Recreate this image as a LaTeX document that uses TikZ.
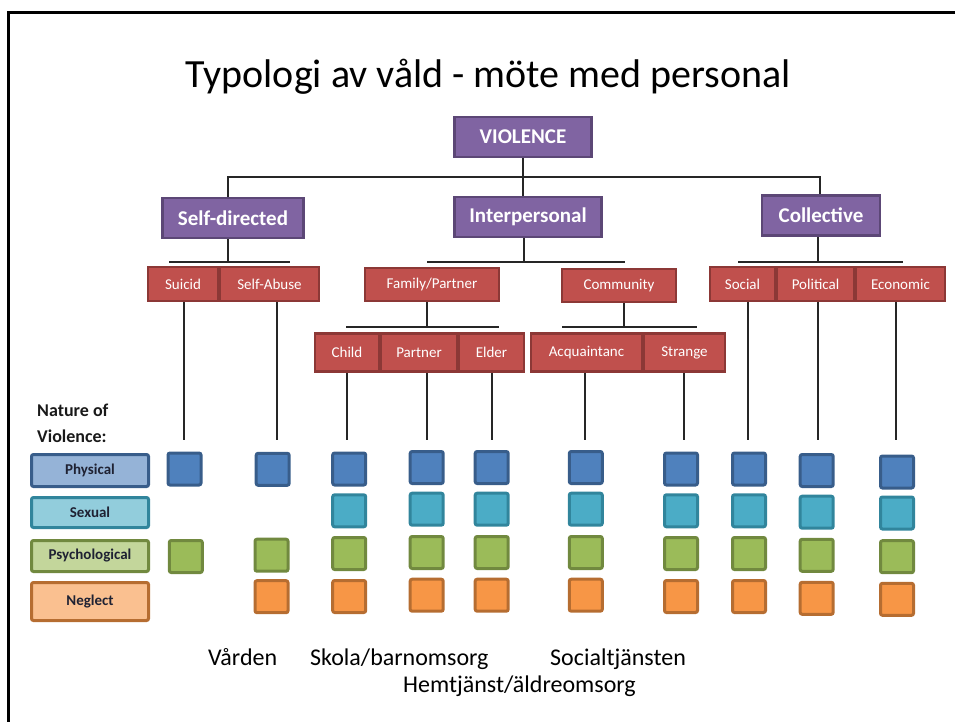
\documentclass[tikz,border=0pt]{standalone}
\usepackage{fontspec}
\setmainfont{Carlito}
\definecolor{purF}{HTML}{8064A2}
\definecolor{purD}{HTML}{5C4776}
\definecolor{redF}{HTML}{C0504D}
\definecolor{redD}{HTML}{8C3836}
\definecolor{bluF}{HTML}{4F81BD}
\definecolor{bluD}{HTML}{385D8A}
\definecolor{cyaF}{HTML}{4BACC6}
\definecolor{cyaD}{HTML}{31859C}
\definecolor{greF}{HTML}{9BBB59}
\definecolor{greD}{HTML}{71893F}
\definecolor{oraF}{HTML}{F79646}
\definecolor{oraD}{HTML}{B66D31}
\definecolor{lbluF}{HTML}{95B3D7}
\definecolor{lcyaF}{HTML}{92CDDC}
\definecolor{lgreF}{HTML}{C3D69B}
\definecolor{loraF}{HTML}{FAC090}
\definecolor{legtext}{HTML}{1F2233}
\tikzset{
  pbox/.style={draw=purD, fill=purF, line width=2.5pt, text=white, inner sep=0pt,
    font=\fontsize{21}{25}\selectfont\bfseries, minimum height=40},
  rbox/.style={draw=redD, fill=redF, line width=2.5pt, text=white, inner sep=0pt,
    font=\fontsize{15}{18}\selectfont},
  conn/.style={draw=black!85, line width=1.8pt},
  sq/.style={line width=3pt, rounded corners=2pt, minimum width=33, minimum height=32, inner sep=0pt},
  sqB/.style={sq, draw=bluD, fill=bluF},
  sqC/.style={sq, draw=cyaD, fill=cyaF},
  sqG/.style={sq, draw=greD, fill=greF},
  sqO/.style={sq, draw=oraD, fill=oraF},
  leg/.style={line width=3pt, rounded corners=2pt, minimum width=117, inner sep=0pt, text=legtext,
    font=\fontsize{15}{18}\selectfont\bfseries},
  caption/.style={anchor=base west, inner sep=0pt, font=\fontsize{24}{28}\selectfont},
}
\begin{document}
\begin{tikzpicture}[x=1pt,y=-1pt]
\useasboundingbox (0,0) rectangle (955,722);
\draw[line width=2.2pt] (8.5,722) -- (8.5,12.5) -- (955,12.5);

% title
\node[anchor=base, inner sep=0pt, font=\fontsize{40}{48}\selectfont] (title) at (488.5,87.5) {Typologi av våld - möte med personal};

% level 0/1
\node[pbox, minimum width=137] (violence) at (523,137) {VIOLENCE};
\node[pbox, minimum width=141] (selfdir) at (233,218) {Self-directed};
\node[pbox, minimum width=147] (interp) at (528,217) {Interpersonal};
\node[pbox, minimum width=118] (collect) at (821,215.5) {Collective};

% level 2 red cells
\node[rbox, minimum width=70, minimum height=34] (suicid) at (183,284) {Suicid};
\node[rbox, minimum width=99, minimum height=34] (sabuse) at (269.5,284) {Self-Abuse};
\node[rbox, minimum width=134, minimum height=33] (family) at (432,284.5) {Family/Partner};
\node[rbox, minimum width=114, minimum height=33] (commun) at (619,285.5) {Community};
\node[rbox, minimum width=65, minimum height=34] (social) at (742.5,284) {Social};
\node[rbox, minimum width=77, minimum height=34] (politic) at (815.5,284) {Political};
\node[rbox, minimum width=89, minimum height=34] (econ) at (900.5,284) {Economic};

% level 3 red cells
\node[rbox, minimum width=64, minimum height=38] (child) at (347,352.5) {Child};
\node[rbox, minimum width=76, minimum height=38] (partner) at (419,352.5) {Partner};
\node[rbox, minimum width=65, minimum height=38] (elder) at (491.5,352.5) {Elder};
\node[rbox, minimum width=111, minimum height=38] (acq) at (586.5,352.5) {Acquaintanc};
\node[rbox, minimum width=81, minimum height=38] (strange) at (684.5,352.5) {Strange};

% connectors level 0 -> 1
\coordinate (b1L) at (228,177);
\coordinate (b1R) at (820,177);
\draw[conn] (b1L |- selfdir.north) -- (b1L) -- (b1R) -- (b1R |- collect.north);
\draw[conn] (violence.south) -- (violence.south |- interp.north);

% connectors level 1 -> 2
\coordinate (s2) at (228,262);
\coordinate (s2L) at (169,262);
\coordinate (s2R) at (290,262);
\draw[conn] (s2 |- selfdir.south) -- (s2);
\draw[conn] (s2L) -- (s2R);
\coordinate (i2) at (524,262);
\coordinate (i2L) at (427,262);
\coordinate (i2R) at (625,262);
\draw[conn] (i2 |- interp.south) -- (i2);
\draw[conn] (i2L) -- (i2R);
\coordinate (c2) at (818,262);
\coordinate (c2L) at (738,262);
\coordinate (c2R) at (903,262);
\draw[conn] (c2 |- collect.south) -- (c2);
\draw[conn] (c2L) -- (c2R);

% connectors level 2 -> 3
\coordinate (f3) at (427,327);
\coordinate (f3L) at (346,327);
\coordinate (f3R) at (499,327);
\draw[conn] (f3 |- family.south) -- (f3);
\draw[conn] (f3L) -- (f3R);
\coordinate (m3) at (624,327);
\coordinate (m3L) at (562,327);
\coordinate (m3R) at (697,327);
\draw[conn] (m3 |- commun.south) -- (m3);
\draw[conn] (m3L) -- (m3R);

% drop lines
\coordinate (dSui) at (184,440);
\coordinate (dSab) at (277,440);
\coordinate (dChi) at (347,440);
\coordinate (dPar) at (427,440);
\coordinate (dEld) at (492,440);
\coordinate (dAcq) at (585,440);
\coordinate (dStr) at (684,440);
\coordinate (dSoc) at (748,440);
\coordinate (dPol) at (818,440);
\coordinate (dEco) at (896,440);
\draw[conn] (dSui |- suicid.south) -- (dSui);
\draw[conn] (dSab |- sabuse.south) -- (dSab);
\draw[conn] (dChi |- child.south) -- (dChi);
\draw[conn] (dPar |- partner.south) -- (dPar);
\draw[conn] (dEld |- elder.south) -- (dEld);
\draw[conn] (dAcq |- acq.south) -- (dAcq);
\draw[conn] (dStr |- strange.south) -- (dStr);
\draw[conn] (dSoc |- social.south) -- (dSoc);
\draw[conn] (dPol |- politic.south) -- (dPol);
\draw[conn] (dEco |- econ.south) -- (dEco);

% legend
\node[anchor=base west, inner sep=0pt, text=black!90, font=\fontsize{18}{22}\selectfont\bfseries, align=left] (nat1) at (37,416) {Nature of};
\node[anchor=base west, inner sep=0pt, text=black!90, font=\fontsize{18}{22}\selectfont\bfseries] (nat2) at (37,442) {Violence:};
\node[leg, draw=bluD, fill=lbluF, minimum height=32] (lphys) at (90,470.5) {Physical};
\node[leg, draw=cyaD, fill=lcyaF, minimum height=30] (lsex) at (90,512.5) {Sexual};
\node[leg, draw=greD, fill=lgreF, minimum height=31] (lpsy) at (90,556) {Psychological};
\node[leg, draw=oraD, fill=loraF, minimum height=38] (lneg) at (90,601.5) {Neglect};

% squares: Suicid
\node[sqB] (suiP) at (184.5,469) {};
\node[sqG] (suiY) at (185.8,556.5) {};
% Self-Abuse
\node[sqB] (sabP) at (272.7,469.3) {};
\node[sqG] (sabY) at (271.5,555.2) {};
\node[sqO] (sabN) at (271.5,596.7) {};
% Child
\node[sqB] (chiP) at (349.2,469) {};
\node[sqC] (chiS) at (349.2,510.8) {};
\node[sqG] (chiY) at (349.2,553.5) {};
\node[sqO] (chiN) at (349.2,596.5) {};
% Partner
\node[sqB] (parP) at (426.7,467.5) {};
\node[sqC] (parS) at (426.7,509.2) {};
\node[sqG] (parY) at (426.7,552.5) {};
\node[sqO] (parN) at (426.7,595.2) {};
% Elder
\node[sqB] (eldP) at (491.7,467.5) {};
\node[sqC] (eldS) at (491.7,509.2) {};
\node[sqG] (eldY) at (491.7,552.5) {};
\node[sqO] (eldN) at (491.7,595.2) {};
% Acquaintance
\node[sqB] (acqP) at (585.8,467.5) {};
\node[sqC] (acqS) at (585.8,509.2) {};
\node[sqG] (acqY) at (585.8,552.5) {};
\node[sqO] (acqN) at (585.8,595.2) {};
% Strange
\node[sqB] (strP) at (681,469) {};
\node[sqC] (strS) at (681,510.8) {};
\node[sqG] (strY) at (681,553.5) {};
\node[sqO] (strN) at (681,596.5) {};
% Social
\node[sqB] (socP) at (749,469) {};
\node[sqC] (socS) at (749,510.8) {};
\node[sqG] (socY) at (749,553.5) {};
\node[sqO] (socN) at (749,596.5) {};
% Political
\node[sqB] (polP) at (816.7,470.5) {};
\node[sqC] (polS) at (816.7,512.2) {};
\node[sqG] (polY) at (816.7,555.3) {};
\node[sqO] (polN) at (816.7,598.3) {};
% Economic
\node[sqB] (ecoP) at (897,472) {};
\node[sqC] (ecoS) at (897,513) {};
\node[sqG] (ecoY) at (897,556.7) {};
\node[sqO] (ecoN) at (897,599.3) {};

% captions
\node[caption] (vard) at (208,665) {Vården};
\node[caption] (skola) at (310,665) {Skola/barnomsorg};
\node[caption] (soc) at (550,665) {Socialtjänsten};
\node[caption] (hemt) at (403,692.5) {Hemtjänst/äldreomsorg};
\end{tikzpicture}
\end{document}
